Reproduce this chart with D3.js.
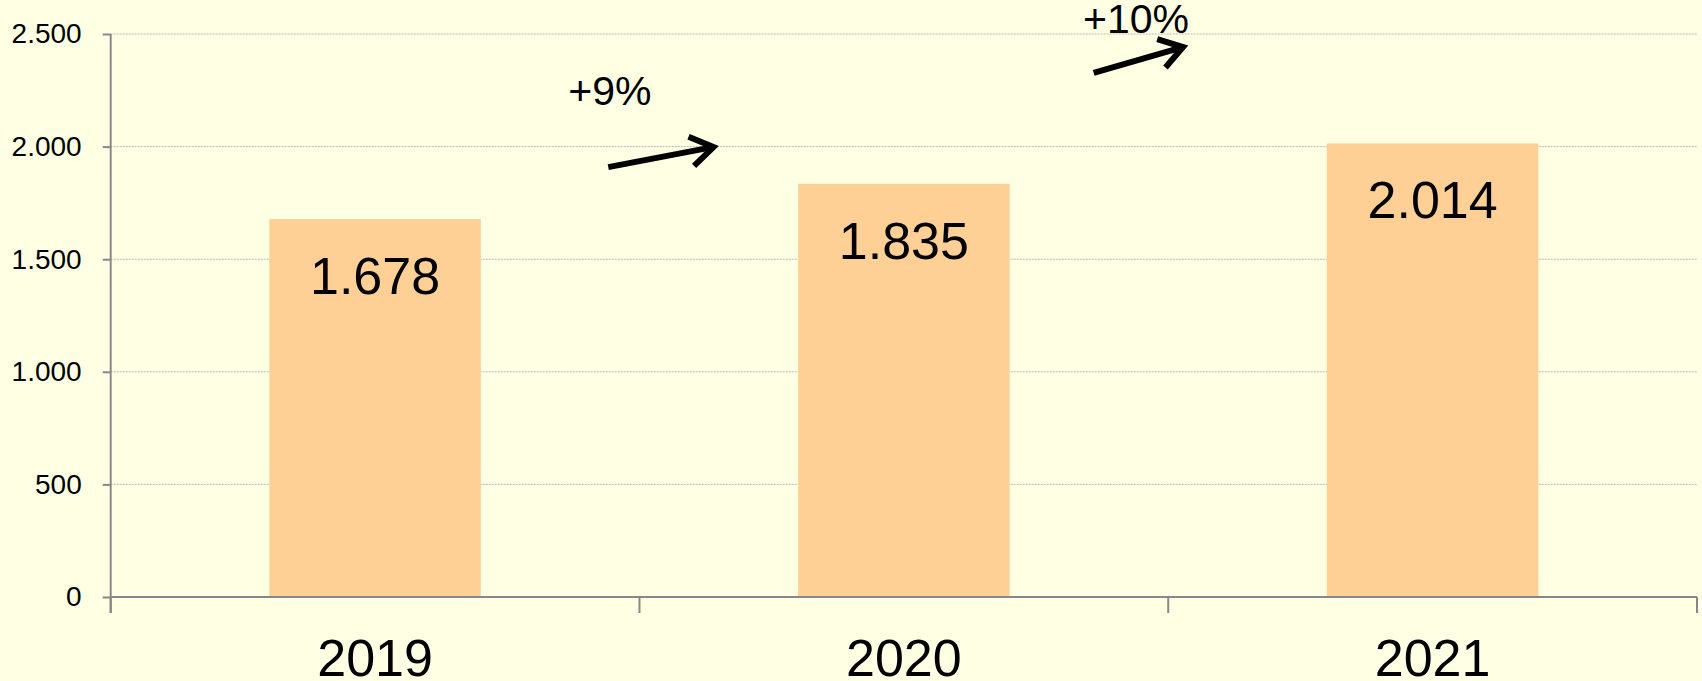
<!DOCTYPE html>
<html>
<head>
<meta charset="utf-8">
<script src="https://cdn.jsdelivr.net/npm/d3@7"></script>
<style>
  html, body { margin: 0; padding: 0; background: #FFFFE4; }
  svg { display: block; font-family: "Liberation Sans", Arial, sans-serif; }
</style>
</head>
<body>
<svg id="chart" width="1702" height="681"></svg>
<script>
// ---- data ----
const categories = ["2019", "2020", "2021"];
const values = [1678, 1835, 2014];
const yTicks = [0, 500, 1000, 1500, 2000, 2500];
const growthLabels = ["+9%", "+10%"];
// annotation anchors: x in category-slot units, y in value units
const arrowTailX = [0.941, 1.859];
const arrowTailY = [1909, 2327];
const arrowTipX = [1.140, 2.028];
const arrowTipY = [1998, 2442];
const growthTextX = [0.944, 1.939];
const growthTextY = [2185, 2503];

(function () {
// ---- layout ----
const W = 1702, H = 681;
const mLeft = 110.7, mRight = 1697, mTop = 34, mBottom = 597;
const svg = d3.select("#chart");
svg.append("rect").attr("width", W).attr("height", H).attr("fill", "#FFFFE4");

const loc = d3.formatLocale({decimal: ",", thousands: ".", grouping: [3], currency: ["", "€"]});
const fmt = loc.format(",d");

const x = d3.scaleBand().domain(categories).range([mLeft, mRight])
  .paddingInner(0.6).paddingOuter(0.3);
const y = d3.scaleLinear().domain([0, 2500]).range([mBottom, mTop]);
const step = x.step();
const slot = u => mLeft + u * step;

// gridlines
svg.append("g").selectAll("line").data(yTicks.filter(d => d > 0)).join("line")
  .attr("x1", mLeft).attr("x2", mRight)
  .attr("y1", d => y(d)).attr("y2", d => y(d))
  .attr("stroke", "#B8B8B8").attr("stroke-width", 1)
  .attr("stroke-dasharray", "2,1");

// bars
svg.append("g").selectAll("rect").data(values).join("rect")
  .attr("x", (d, i) => x(categories[i]))
  .attr("width", x.bandwidth())
  .attr("y", d => y(d))
  .attr("height", d => y(0) - y(d))
  .attr("fill", "#FFD096");

// value labels
svg.append("g").selectAll("text").data(values).join("text")
  .attr("x", (d, i) => x(categories[i]) + x.bandwidth() / 2)
  .attr("y", d => y(d) + 75)
  .attr("text-anchor", "middle")
  .attr("font-size", 52)
  .attr("fill", "#000")
  .text(d => fmt(d));

// y axis
const yAxis = d3.axisLeft(y).tickValues(yTicks).tickFormat(fmt)
  .tickSize(8).tickSizeOuter(0).tickPadding(21);
const gy = svg.append("g").attr("transform", `translate(${mLeft},0)`).call(yAxis);
gy.select(".domain").remove();
gy.selectAll(".tick line").attr("stroke", "#888").attr("stroke-width", 2);
gy.selectAll(".tick text").attr("font-size", 28).attr("fill", "#000")
  .attr("font-family", "Liberation Sans, Arial, sans-serif");
svg.append("line").attr("x1", mLeft).attr("x2", mLeft)
  .attr("y1", mTop).attr("y2", mBottom + 16)
  .attr("stroke", "#888").attr("stroke-width", 2);

// x axis line + category boundary ticks
svg.append("line").attr("x1", mLeft).attr("x2", mRight)
  .attr("y1", y(0)).attr("y2", y(0))
  .attr("stroke", "#888").attr("stroke-width", 2);
svg.append("g").selectAll("line").data(d3.range(categories.length + 1)).join("line")
  .attr("x1", i => slot(i)).attr("x2", i => slot(i))
  .attr("y1", y(0)).attr("y2", y(0) + 16)
  .attr("stroke", "#888").attr("stroke-width", 2);

// category labels
svg.append("g").selectAll("text").data(categories).join("text")
  .attr("x", d => x(d) + x.bandwidth() / 2)
  .attr("y", y(0) + 79)
  .attr("text-anchor", "middle")
  .attr("font-size", 52)
  .attr("fill", "#000")
  .text(d => d);

// growth arrows
const ann = svg.append("g");
growthLabels.forEach((lab, i) => {
  const x0 = slot(arrowTailX[i]), y0 = y(arrowTailY[i]);
  const x1 = slot(arrowTipX[i]), y1 = y(arrowTipY[i]);
  const ang = Math.atan2(y1 - y0, x1 - x0);
  const L = 27, spread = 0.58;
  const ax = x1 - L * Math.cos(ang - spread), ay = y1 - L * Math.sin(ang - spread);
  const bx = x1 - L * Math.cos(ang + spread), by = y1 - L * Math.sin(ang + spread);
  ann.append("line").attr("x1", x0).attr("y1", y0).attr("x2", x1 - 2 * Math.cos(ang)).attr("y2", y1 - 2 * Math.sin(ang))
    .attr("stroke", "#000").attr("stroke-width", 6);
  ann.append("path").attr("d", `M${ax},${ay}L${x1},${y1}L${bx},${by}`)
    .attr("fill", "none").attr("stroke", "#000").attr("stroke-width", 6)
    .attr("stroke-linejoin", "miter").attr("stroke-linecap", "butt");
  ann.append("text").attr("x", slot(growthTextX[i])).attr("y", y(growthTextY[i]))
    .attr("text-anchor", "middle").attr("font-size", 41).attr("fill", "#000")
    .text(lab);
});
})();
</script>
</body>
</html>
